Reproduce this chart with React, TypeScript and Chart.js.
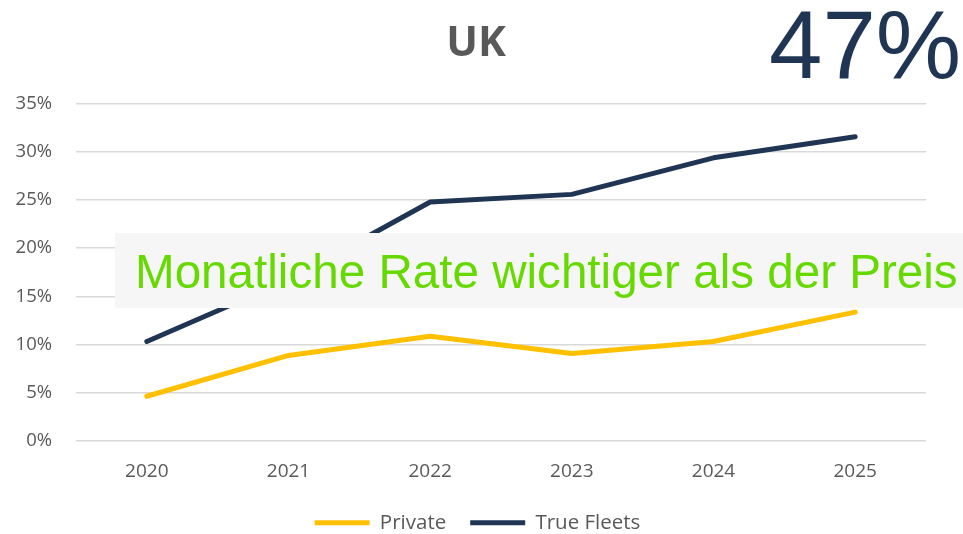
import React, { useEffect, useRef } from "react";
import { Chart, registerables } from "chart.js";

Chart.register(...registerables);

const years = ["2020", "2021", "2022", "2023", "2024", "2025"];
const privateValues = [4.6, 8.85, 10.85, 9.05, 10.3, 13.35];
const trueFleetValues = [10.3, 16.7, 24.8, 25.6, 29.4, 31.6];
const yTicks = [0, 5, 10, 15, 20, 25, 30, 35];

const titleText = "UK";
const bigNumber = "47%";
const overlayText = "Monatliche Rate wichtiger als der Preis";

const YELLOW = "#FFC000";
const NAVY = "#1F3553";
const GRAY = "#595959";

export default function App() {
  const canvasRef = useRef<HTMLCanvasElement | null>(null);

  useEffect(() => {
    if (!canvasRef.current) return;
    const chart = new Chart(canvasRef.current, {
      type: "line",
      data: {
        labels: years,
        datasets: [
          {
            label: "Private",
            data: privateValues,
            borderColor: YELLOW,
            backgroundColor: YELLOW,
            borderWidth: 5,
            borderCapStyle: "round",
            borderJoinStyle: "round",
            pointRadius: 0,
            tension: 0,
          },
          {
            label: "True Fleets",
            data: trueFleetValues,
            borderColor: NAVY,
            backgroundColor: NAVY,
            borderWidth: 5,
            borderCapStyle: "round",
            borderJoinStyle: "round",
            pointRadius: 0,
            tension: 0,
          },
        ],
      },
      options: {
        responsive: false,
        animation: false,
        layout: { padding: { top: 104, left: 0, right: 8, bottom: -9 } },
        plugins: {
          title: { display: false },
          tooltip: { enabled: false },
          legend: {
            position: "bottom",
            labels: {
              usePointStyle: true,
              pointStyle: "line",
              pointStyleWidth: 55,
              boxHeight: 5,
              padding: 24,
              color: GRAY,
              font: { family: "'Open Sans', sans-serif", size: 20.5 },
            },
          },
        },
        scales: {
          x: {
            offset: true,
            grid: { display: false, drawTicks: false },
            border: { display: false },
            ticks: {
              color: GRAY,
              padding: 20,
              font: { family: "'Open Sans', sans-serif", size: 19 },
            },
            afterFit: (s: any) => {
              s.height = 48;
            },
          },
          y: {
            min: 0,
            max: 35,
            afterBuildTicks: (s: any) => {
              s.ticks = yTicks.map((v) => ({ value: v }));
            },
            grid: { color: "#D9D9D9", lineWidth: 1.5, drawTicks: false },
            border: { display: false },
            ticks: {
              color: GRAY,
              padding: 24,
              font: { family: "'Open Sans', sans-serif", size: 18.5 },
              callback: (v: any) => v + "%",
            },
            afterFit: (s: any) => {
              s.width = 76;
            },
          },
          yRight: {
            position: "right",
            display: true,
            min: 0,
            max: 35,
            grid: { display: false, drawTicks: false },
            border: { display: false },
            ticks: { display: false },
            afterFit: (s: any) => {
              s.width = 29;
            },
          },
        },
      },
    });
    return () => chart.destroy();
  }, []);

  return (
    <div
      style={{
        position: "absolute",
        left: 0,
        top: 0,
        width: 963,
        height: 534,
        background: "#fff",
        overflow: "hidden",
      }}
    >
      <canvas ref={canvasRef} width={963} height={534} style={{ position: "absolute", left: 0, top: 0 }} />
      <div
        style={{
          position: "absolute",
          left: 376,
          width: 200,
          top: 12,
          textAlign: "center",
          fontFamily: "'Open Sans', sans-serif",
          fontWeight: 700,
          fontSize: 42,
          lineHeight: "56px",
          color: GRAY,
        }}
      >
        {titleText}
      </div>
      <div
        style={{
          position: "absolute",
          left: 769,
          top: -3,
          fontFamily: "'Liberation Sans', Arial, sans-serif",
          fontSize: 96,
          lineHeight: 1,
          color: NAVY,
          whiteSpace: "nowrap",
        }}
      >
        {bigNumber}
      </div>
      <div
        style={{
          position: "absolute",
          left: 115,
          top: 233,
          width: 848,
          height: 75,
          background: "#F6F6F6",
        }}
      >
        <div
          style={{
            position: "absolute",
            left: 20,
            top: 1,
            height: 75,
            lineHeight: "75px",
            fontFamily: "'Liberation Sans', Arial, sans-serif",
            fontSize: 47.6,
            color: "#66D900",
            whiteSpace: "nowrap",
          }}
        >
          {overlayText}
        </div>
      </div>
    </div>
  );
}
